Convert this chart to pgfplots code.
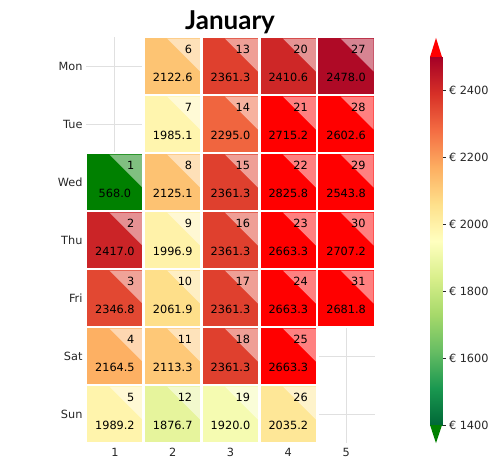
\documentclass[border=0pt]{standalone}
\usepackage{fontspec}
\setmainfont{DejaVu Sans}
\newfontfamily\titlefont{Lato}
\usepackage{pgfplots}
\usepackage{pgfplotstable}
\pgfplotsset{compat=1.18}

\definecolor{tickgray}{RGB}{38,38,38}
\definecolor{gridgray}{RGB}{224,224,224}
\definecolor{over}{RGB}{255,0,0}
\definecolor{under}{RGB}{0,128,0}

% RdYlGn_r from 1400 to 2500, over/under colours just outside
\pgfplotsset{
  colormap={cells}{
    rgb255(0pt)=(0,128,0)
    rgb255(1pt)=(0,104,55)
    rgb255(111pt)=(26,152,80)
    rgb255(221pt)=(102,189,99)
    rgb255(331pt)=(166,217,106)
    rgb255(441pt)=(217,239,139)
    rgb255(551pt)=(255,255,191)
    rgb255(661pt)=(254,224,139)
    rgb255(771pt)=(253,174,97)
    rgb255(881pt)=(244,109,67)
    rgb255(991pt)=(215,48,39)
    rgb255(1101pt)=(165,0,38)
    rgb255(1102pt)=(255,0,0)
  },
  colormap={rdylgn}{
    rgb255=(0,104,55) rgb255=(26,152,80) rgb255=(102,189,99)
    rgb255=(166,217,106) rgb255=(217,239,139) rgb255=(255,255,191)
    rgb255=(254,224,139) rgb255=(253,174,97) rgb255=(244,109,67)
    rgb255=(215,48,39) rgb255=(165,0,38)
  },
}

% light corner in the top right of each cell
\pgfdeclareplotmark{cornertri}{%
  \pgfpathmoveto{\pgfpoint{-5.5pt}{27.5pt}}%
  \pgfpathlineto{\pgfpoint{27.5pt}{27.5pt}}%
  \pgfpathlineto{\pgfpoint{27.5pt}{-5.5pt}}%
  \pgfpathclose\pgfusepathqfill}

\newcommand\lbl{\fontsize{11.3}{13}\selectfont}

% week (x), weekday (y), value, day of month
\pgfplotstableread{
x y v d
1 3 568.0 1
1 4 2417.0 2
1 5 2346.8 3
1 6 2164.5 4
1 7 1989.2 5
2 1 2122.6 6
2 2 1985.1 7
2 3 2125.1 8
2 4 1996.9 9
2 5 2061.9 10
2 6 2113.3 11
2 7 1876.7 12
3 1 2361.3 13
3 2 2295.0 14
3 3 2361.3 15
3 4 2361.3 16
3 5 2361.3 17
3 6 2361.3 18
3 7 1920.0 19
4 1 2410.6 20
4 2 2715.2 21
4 3 2825.8 22
4 4 2663.3 23
4 5 2663.3 24
4 6 2663.3 25
4 7 2035.2 26
5 1 2478.0 27
5 2 2602.6 28
5 3 2543.8 29
5 4 2707.2 30
5 5 2681.8 31
}\january

\begin{document}
\begin{tikzpicture}
\useasboundingbox (-86pt,-17pt) rectangle (403pt,443pt);

\begin{axis}[
  at={(0pt,0pt)}, anchor=south west, scale only axis,
  width=289pt, height=406pt,
  xmin=0.5, xmax=5.5, ymin=0.5, ymax=7.5, y dir=reverse,
  xtick={1,2,3,4,5}, ytick={1,2,3,4,5,6,7},
  yticklabels={Mon,Tue,Wed,Thu,Fri,Sat,Sun},
  grid=major, major grid style={gridgray, line width=0.8pt},
  axis line style={draw=none}, major tick length=0pt,
  tick label style={font=\lbl, text=tickgray},
  xticklabel style={yshift=-1.5pt},
  /pgf/number format/assume math mode=true,
  colormap name=cells, point meta min=1399, point meta max=2501,
  clip=false,
]
\addplot[scatter, only marks, mark=square*, mark size=29pt,
  mark options={line width=2.8pt},
  scatter/use mapped color={draw=white, fill=mapped color},
  point meta=explicit]
  table[x=x, y=y, meta=v] {\january};
\addplot[only marks, mark=cornertri,
  mark options={fill=white, fill opacity=0.5, draw=none}]
  table[x=x, y=y] {\january};
\addplot[draw=none, mark=none, point meta=explicit symbolic,
  nodes near coords,
  nodes near coords style={anchor=center, yshift=-11pt,
    font=\lbl, text=black}]
  table[x=x, y=y, meta=v] {\january};
\addplot[draw=none, mark=none, point meta=explicit symbolic,
  nodes near coords,
  nodes near coords style={anchor=east, xshift=23pt, yshift=17pt,
    font=\lbl, text=black}]
  table[x=x, y=y, meta=d] {\january};
\end{axis}

\begin{axis}[
  at={(344pt,18pt)}, anchor=south west, scale only axis,
  width=12pt, height=368pt,
  xmin=0, xmax=1, ymin=1400, ymax=2500,
  colormap name=rdylgn, point meta min=1400, point meta max=2500,
  axis line style={draw=none}, xtick=\empty,
  ytick={1400,1600,1800,2000,2200,2400},
  yticklabels={€ 1400,€ 1600,€ 1800,€ 2000,€ 2200,€ 2400},
  ytick pos=right, yticklabel pos=right, tick align=outside,
  major tick length=3.5pt, tick style={tickgray, line width=0.8pt},
  yticklabel style={font=\lbl, text=tickgray},
  clip=false,
]
\addplot[surf, shader=interp, point meta=y, mesh/cols=2]
  coordinates {(0,1400) (1,1400) (0,2500) (1,2500)};
\fill[over] (axis cs:0,2500) -- (axis cs:1,2500) -- (axis cs:0.5,2557) -- cycle;
\fill[under] (axis cs:0,1400) -- (axis cs:1,1400) -- (axis cs:0.5,1346) -- cycle;
\end{axis}

\node[anchor=base] at (144pt,413pt)
  {\titlefont\bfseries\fontsize{26}{30}\selectfont January};
\end{tikzpicture}
\end{document}
